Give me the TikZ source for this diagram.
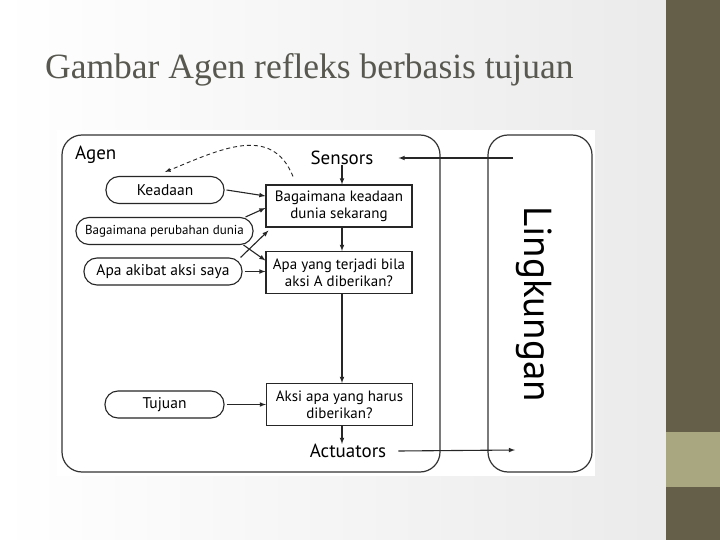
\documentclass[tikz,border=0pt]{standalone}
\usepackage{fontspec}
\setmainfont{Liberation Serif}
\setsansfont{PT Sans}
\usetikzlibrary{positioning}
\definecolor{barDark}{RGB}{101,94,73}
\definecolor{barLight}{RGB}{169,167,127}
\definecolor{titleGray}{RGB}{88,88,80}

\begin{document}
\begin{tikzpicture}
[x=1pt, y=-1pt, every node/.style={inner sep=0pt}, >=latex,
 frame/.style={draw=black!80, line width=1.2pt, rounded corners=20pt},
 box/.style={draw=black!85, line width=1.1pt, minimum width=146pt, minimum height=42pt, align=center, font=\sffamily\fontsize{15}{17}\selectfont},
 pill/.style={draw=black!85, line width=1.1pt, rounded corners=13pt, minimum height=27pt, font=\sffamily\fontsize{15.5}{17}\selectfont},
 port/.style={font=\sffamily\fontsize{19}{21}\selectfont},
 link/.style={->, line width=1.1pt, color=black!85}]
\useasboundingbox (0,0) rectangle (720,540);
% slide background
\shade [left color=white, right color=black!8] (0,0) rectangle (666,540);
\fill [barDark] (666,0) rectangle (720,540);
\fill [barLight] (666,432) rectangle (720,487);
\node (title) [anchor=base west, text=titleGray, font=\fontsize{35.5}{38}\selectfont] at (45,79) {Gambar Agen refleks berbasis tujuan};
\fill [white] (57,130) rectangle (595,476);
% agent and environment
\node (agent) [frame, minimum width=378pt, minimum height=337pt] at (251,303.5) {};
\node (env) [frame, minimum width=104pt, minimum height=337pt] at (540,303.5) {};
\node (lingkungan) [rotate=-90, font=\sffamily\fontsize{39}{41}\selectfont] at (534,304) {Lingkungan};
\node (agen) [port, anchor=west] at (75,155) {Agen};
\node (sensors) [port] at (342,158) {Sensors};
\node (actuators) [port] at (348,451) {Actuators};
% state boxes
\node (state) [box] at (339,206) {Bagaimana keadaan\\dunia sekarang};
\node (predict) [box] at (339,272.5) {Apa yang terjadi bila\\aksi A diberikan?};
\node (action) [box] at (339.5,404.5) {Aksi apa yang harus\\diberikan?};
\node (keadaan) [pill, minimum width=118pt] at (165,190) {Keadaan};
\node (perubahan) [pill, minimum width=177pt, font=\sffamily\fontsize{13}{14}\selectfont] at (164.5,231) {Bagaimana perubahan dunia};
\node (akibat) [pill, minimum width=158pt, font=\sffamily\fontsize{15.5}{18}\selectfont] at (163,271.5) {Apa akibat aksi saya};
\node (tujuan) [pill, minimum width=119pt] at (164.5,404.5) {Tujuan};
\coordinate (envin) at (513,158);
\coordinate (envout) at (515,450);
% connectors
\draw [link] (envin) -- ([xshift=25pt]sensors.east);
\draw [link] ([xshift=12pt]actuators.east) -- (envout);
\draw [link] (sensors.south -| 342,0) -- (state.north -| 342,0);
\draw [link] (state.south -| 342,0) -- (predict.north -| 342,0);
\draw [link] (predict.south -| 342,0) -- (action.north -| 342,0);
\draw [link] (action.south -| 342,0) -- (actuators.north -| 342,0);
\draw [link] ([xshift=2pt]keadaan.east) -- ([yshift=10pt]state.west);
\draw [link] ([xshift=-8pt]perubahan.north east) -- ([yshift=-2pt]state.west);
\draw [link] ([xshift=-10pt]perubahan.south east) -- ([yshift=12pt]predict.west);
\draw [link] ([xshift=-2pt]akibat.north east) -- ([shift={(3pt,-3pt)}]state.south west);
\draw [link] ([xshift=2pt]akibat.east) -- (predict.west |- akibat.east);
\draw [link] ([xshift=2pt]tujuan.east) -- (action.west);
\draw [->, dashed, dash pattern=on 4pt off 3pt, line width=0.9pt, color=black!85] ([shift={(-46pt,8pt)}]state.north) to [out=112, in=22, looseness=1.15] ([yshift=4pt]keadaan.north);
\end{tikzpicture}
\end{document}
